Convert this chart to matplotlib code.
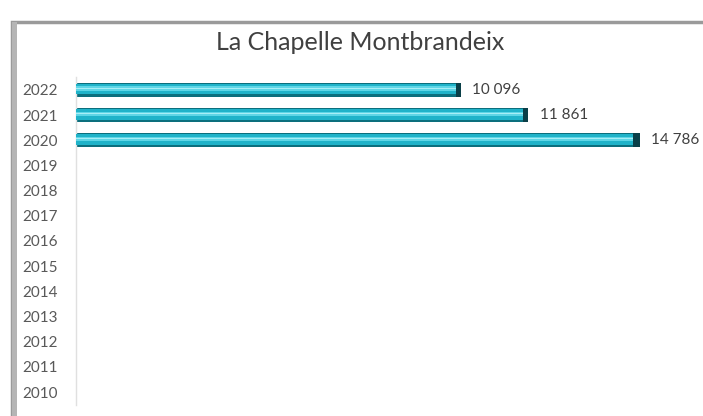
import matplotlib.pyplot as plt
from matplotlib.patches import Rectangle

years = [str(y) for y in range(2010, 2023)]
values = [0, 0, 0, 0, 0, 0, 0, 0, 0, 0, 14786, 11861, 10096]
labels = ['', '', '', '', '', '', '', '', '', '', '14 786', '11 861', '10 096']

plt.rcParams['font.family'] = ['Lato', 'DejaVu Sans']

fig = plt.figure(figsize=(7.03, 4.16), dpi=100)

# outer frame with shadow on top/left (extends past right and bottom edges)
fig.patches.append(Rectangle((12 / 703, -0.1), 1.1, 0.1 + (416 - 22) / 416, transform=fig.transFigure,
                             facecolor='white', edgecolor='#9a9a9a', linewidth=2.5, zorder=-2))
fig.patches.append(Rectangle((12 / 703, -0.1), 5 / 703, 0.1 + (416 - 22) / 416, transform=fig.transFigure,
                             facecolor='#b5b5b5', edgecolor='none', zorder=-1))

ax = fig.add_axes([76 / 703, 11.4 / 416, 610 / 703, 327.2 / 416])
ax.set_facecolor('none')
pos = list(range(len(years)))
h = 0.55

# layered bars for the bevel look
ax.barh(pos, values, height=h, color='#0c6f7d', zorder=2)
ax.barh([p + 0.04 for p in pos], values, height=h * 0.78, color='#20b3c9', zorder=3)
ax.barh([p + 0.06 for p in pos], values, height=h * 0.3, color='#5fd6e6', zorder=4)
ax.barh([p + 0.07 for p in pos], values, height=h * 0.1, color='#a8eef6', zorder=5)
for p, v in zip(pos, values):
    if v > 0:
        ax.barh(p, v * 0.012, left=v * 0.988, height=h, color='#0a3f48', zorder=6)

for p, v, t in zip(pos, values, labels):
    if v > 0:
        ax.text(v + 300, p, t, va='center', ha='left', fontsize=11, color='#404040')

ax.set_xlim(0, 16000)
ax.set_ylim(-0.5, 12.5)
ax.set_yticks(pos)
ax.set_yticklabels(years, fontsize=11, color='#595959')
ax.set_xticks([])
ax.tick_params(axis='y', length=0, pad=13)
for s in ['top', 'right', 'bottom']:
    ax.spines[s].set_visible(False)
ax.spines['left'].set_color('#e0e0e0')
ax.spines['left'].set_linewidth(1)

fig.text(360 / 703, 1 - 43 / 416, 'La Chapelle Montbrandeix', ha='center', va='center',
         fontsize=18, color='#404040')

fig.savefig('out.png', dpi=100)
